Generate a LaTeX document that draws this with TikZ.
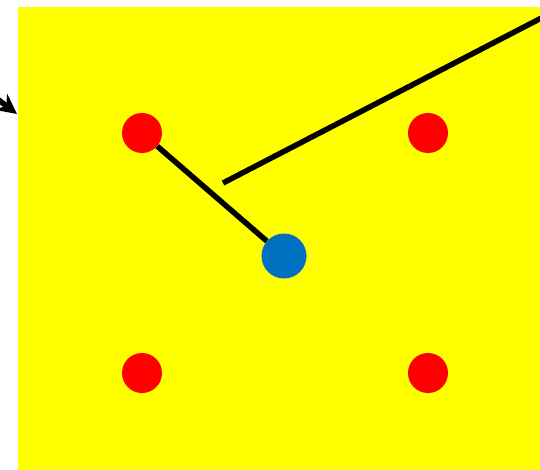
\documentclass[tikz,border=0pt]{standalone}
\usepackage{xcolor}
\usetikzlibrary{arrows.meta}
\definecolor{plateyellow}{HTML}{FFFF00}
\definecolor{pinred}{HTML}{FF0000}
\definecolor{hubblue}{HTML}{0070C0}
\tikzstyle{plate} = [rectangle, fill=plateyellow, draw=none, minimum width=522pt, minimum height=463pt, inner sep=0pt, anchor=north west]
\tikzstyle{pin} = [circle, fill=pinred, draw=none, minimum size=40pt, inner sep=0pt]
\tikzstyle{hub} = [circle, fill=hubblue, draw=none, minimum size=45pt, inner sep=0pt]
\tikzstyle{rod} = [line width=5.5pt, black]
\tikzstyle{arrow} = [line width=5.5pt, -{Stealth[length=20pt, width=20pt]}]

\begin{document}
\begin{tikzpicture}[x=1pt, y=-1pt]
      \useasboundingbox (0,0) rectangle (540,470);
      \clip (0,0) rectangle (540,470);
      \node (base)[plate] at (18,7) {};
      \node (tl)[pin] at (142,133) {};
      \node (tr)[pin] at (428,133) {};
      \node (bl)[pin] at (142,373) {};
      \node (br)[pin] at (428,373) {};
      \node (ctr)[hub] at (284,256) {};
      \coordinate (rodstart) at (223,183);
      \coordinate (rodend) at (580,-2);
      \coordinate (tail) at (-30,78);
      \coordinate (tip) at (17,114);
      \draw [rod](tl)--(ctr);
      \draw [rod](rodstart)--(rodend);
      \draw [arrow](tail)--(tip);
    \end{tikzpicture}
\end{document}
